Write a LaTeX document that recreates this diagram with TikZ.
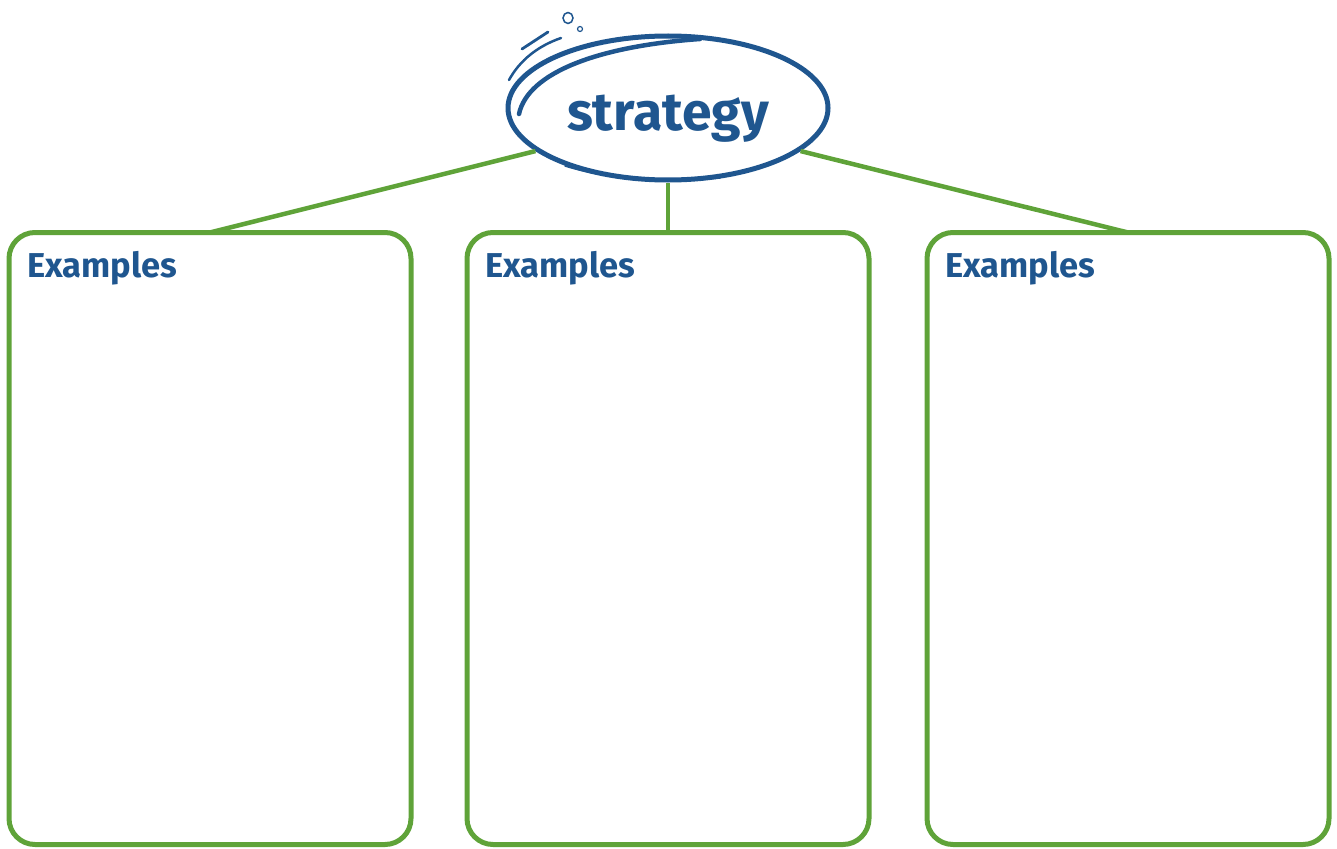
\documentclass[tikz,border=0pt]{standalone}
\usepackage{fontspec}
\setmainfont{Fira Sans}
\usepackage{tikz}
\usetikzlibrary{positioning, shapes.geometric, calc}
\usepackage{xcolor}
\definecolor{stratblue}{RGB}{31,86,143}
\definecolor{leafgreen}{RGB}{95,163,57}

\tikzset{
  exbox/.style={draw=leafgreen, line width=5pt, rounded corners=26pt,
                minimum width=402pt, minimum height=612pt, inner sep=0pt, outer sep=0pt},
  exlabel/.style={font=\bfseries\fontsize{34.5}{38}\selectfont, text=stratblue,
                  inner sep=0pt, anchor=base west},
  bubble/.style={ellipse, draw=stratblue, line width=5pt, fill=white,
                 minimum width=320pt, minimum height=144pt, inner sep=0pt},
  titlefont/.style={font=\bfseries\fontsize{53.5}{58}\selectfont, text=stratblue,
                    inner sep=0pt, anchor=base},
  link/.style={draw=leafgreen, line width=4.5pt},
  sketch/.style={draw=stratblue, line cap=round}
}

\begin{document}
\begin{tikzpicture}[x=1pt, y=-1pt]
    \useasboundingbox (0,0) rectangle (1337,848);

    \node[exbox] (box1) at (210,538.5) {};
    \node[exbox] (box2) at (668,538.5) {};
    \node[exbox] (box3) at (1128,538.5) {};

    \node[exlabel] (ex1) at ($(box1.north west)+(18,44.5)$) {Examples};
    \node[exlabel] (ex2) at ($(box2.north west)+(18,44.5)$) {Examples};
    \node[exlabel] (ex3) at ($(box3.north west)+(18,44.5)$) {Examples};

    \node[bubble] (strat) at (668,108) {};
    \node[titlefont] (stratlbl) at ($(strat.center)+(0,22)$) {strategy};

    \draw[link] (box1.north) -- (strat.198);
    \draw[link] (box2.north) -- (strat.south);
    \draw[link] (box3.north) -- (strat.342);

    \draw[sketch, line width=4.5pt] (519,114) .. controls (528,72) and (600,46) .. (700,39);
    \draw[sketch, line width=2.5pt] (509,80) .. controls (520,60) and (538,46) .. (561,38);
    \draw[sketch, line width=2.8pt] (522,49) -- (548,32);
    \draw[sketch, line width=1.5pt] (568,18) ellipse [x radius=5, y radius=5.5];
    \draw[sketch, line width=1.2pt] (580,29) circle [radius=2.5];
    \draw[sketch, line width=1.5pt] (565,166) .. controls (610,180) and (660,182) .. (720,178);
\end{tikzpicture}
\end{document}
